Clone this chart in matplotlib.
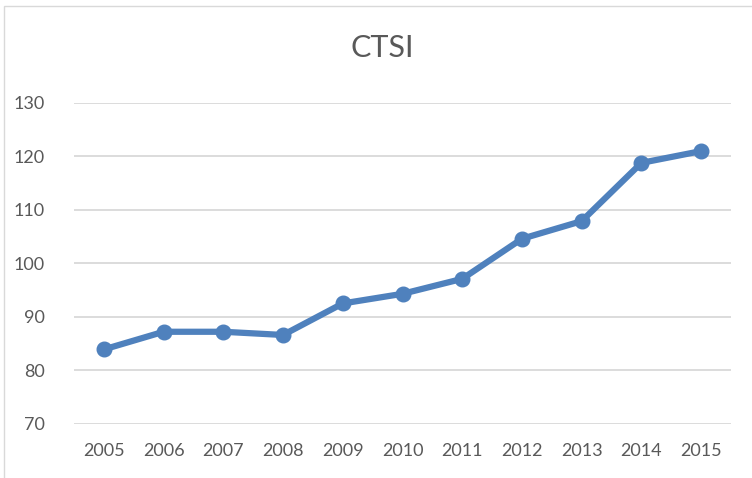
import matplotlib
matplotlib.use("Agg")
import matplotlib.pyplot as plt
from matplotlib.patches import Rectangle

years = ["2005", "2006", "2007", "2008", "2009", "2010", "2011", "2012", "2013", "2014", "2015"]
ctsi = [83.9, 87.2, 87.2, 86.6, 92.5, 94.3, 97.1, 104.6, 107.9, 118.8, 121.0]
yticks = [70, 80, 90, 100, 110, 120, 130]

plt.rcParams['font.family'] = ['Lato', 'DejaVu Sans']

fig = plt.figure(figsize=(7.52, 4.78), dpi=100)
W, H = 752, 478
ax = fig.add_axes([74 / W, 1 - 423.7 / H, (731 - 74) / W, (423.7 - 103) / H])

x = list(range(len(years)))
ax.plot(x, ctsi, color="#4F81BD", linewidth=4.5, marker="o", markersize=10.5,
        solid_capstyle="round", solid_joinstyle="round", zorder=3)

ax.set_xlim(-0.5, len(years) - 0.5)
ax.set_ylim(70, 130)
ax.set_yticks(yticks)
ax.set_yticklabels([str(v) for v in yticks])
ax.set_xticks(x)
ax.set_xticklabels(years)
ax.grid(axis="y", color="#D9D9D9", linewidth=1.3, zorder=0)
ax.grid(axis="x", visible=False)
for s in ax.spines.values():
    s.set_visible(False)
ax.tick_params(axis="both", length=0, labelsize=13, colors="#595959")
ax.tick_params(axis="y", pad=21)
ax.tick_params(axis="x", pad=14)

fig.text(382 / W, 1 - 48 / H, "CTSI", ha="center", va="center", fontsize=22, color="#595959")

# chart border (left and top visible)
fig.patches.append(Rectangle((4 / W, -0.05), 1.1, 1 - 6 / H + 0.05, transform=fig.transFigure,
                             fill=False, edgecolor="#D9D9D9", linewidth=1.0))

fig.savefig("out.png", dpi=100)
